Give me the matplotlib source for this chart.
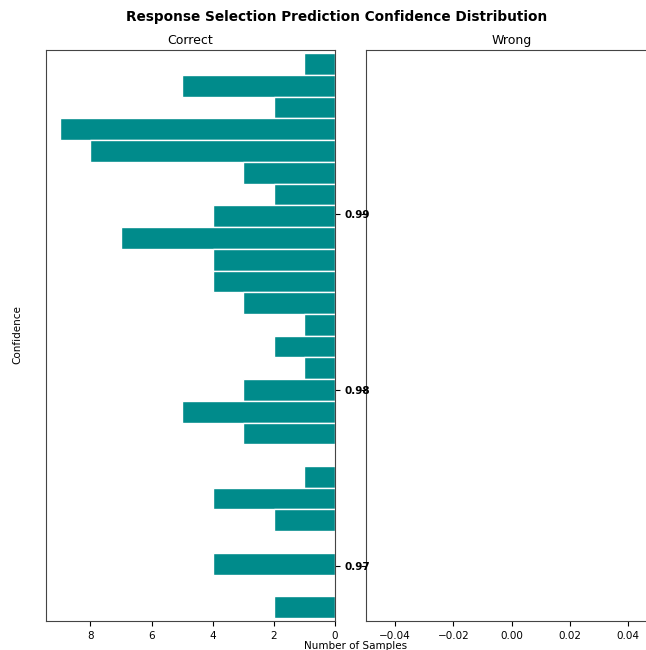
import numpy as np
import matplotlib
matplotlib.use("Agg")
import matplotlib.pyplot as plt

# histogram of confidences for correct predictions (top bin first)
correct_counts = [1, 5, 2, 9, 8, 3, 2, 4, 7, 4, 4, 3, 1, 2, 1, 3, 5, 3, 0, 1, 4, 2, 0, 4, 0, 2]
conf_min = 0.96702
conf_max = 0.99916
wrong_counts = []  # no wrong predictions

y_ticks = [0.97, 0.98, 0.99]
bar_color = "#008b8b"

n_bins = len(correct_counts)
edges = np.linspace(conf_min, conf_max, n_bins + 1)
lower_edges = edges[:-1][::-1]  # counts listed top to bottom
bin_h = edges[1] - edges[0]

fig = plt.figure(figsize=(6.46, 6.5), dpi=100)
ax_w = fig.add_axes([366 / 646, 1 - 621 / 650, 291 / 646, 571 / 650])
ax_c = fig.add_axes([46 / 646, 1 - 621 / 650, 289 / 646, 571 / 650], sharey=ax_w)
ax_w.patch.set_alpha(0)
ax_c.patch.set_alpha(0)

ax_c.barh(lower_edges, correct_counts, height=bin_h, align="edge",
          color=bar_color, edgecolor="white", linewidth=1)
ax_c.set_xlim(9.45, 0)
ax_c.set_ylim(0.96685, 0.99935)
ax_c.set_yticks(y_ticks)
ax_c.yaxis.tick_right()
ax_c.tick_params(axis="both", labelsize=7.5)
for lbl in ax_c.get_yticklabels():
    lbl.set_fontweight("bold")
    lbl.set_zorder(10)
ax_c.set_title("Correct", fontsize=9, pad=4)

ax_w.set_xlim(-0.05, 0.05)
ax_w.tick_params(axis="y", left=True, labelleft=False, right=False, labelright=False)
ax_w.tick_params(axis="x", labelsize=7.5)
ax_w.set_title("Wrong", fontsize=9, pad=4)

for ax in (ax_c, ax_w):
    for sp in ax.spines.values():
        sp.set_color("#444444")

fig.text(337 / 646, 1 - 17 / 650, "Response Selection Prediction Confidence Distribution",
         ha="center", va="center", fontsize=9.8, fontweight="bold")
fig.text(356 / 646, 1 - 646 / 650, "Number of Samples", ha="center", va="center", fontsize=7.5)
fig.text(17 / 646, 1 - 335 / 650, "Confidence", ha="center", va="center",
         rotation=90, fontsize=7.5)

fig.savefig("out.png", dpi=100)
